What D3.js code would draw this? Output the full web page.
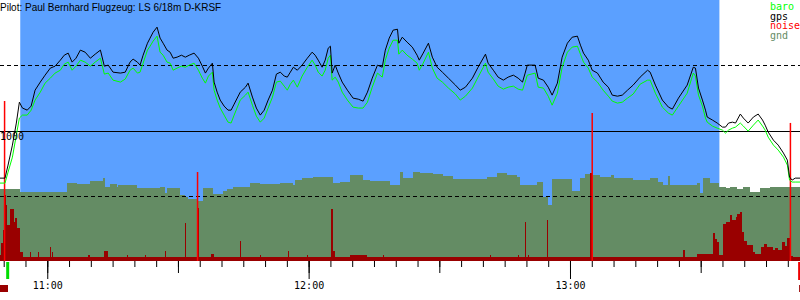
<!DOCTYPE html>
<html>
<head>
<meta charset="utf-8">
<script src="https://cdn.jsdelivr.net/npm/d3@7"></script>
<style>
body{margin:0;background:#fff}
svg text{font-family:'DejaVu Sans Mono',monospace;font-size:10px}
svg .title{font-family:'Liberation Sans',Arial,sans-serif;font-size:10px}
</style>
</head>
<body>
<div id="chart"></div>
<script>
// minutes after 10:00
var times=[49.1,50.3,51.0,52.0,52.9,53.6,54.3,55.4,56.3,57.2,58.4,59.5,60.7,61.8,63.0,63.9,64.8,65.7,66.6,67.6,68.7,69.9,71.0,72.2,73.1,74.0,75.1,76.8,77.9,79.0,79.7,80.7,81.3,82.0,83.0,83.6,84.3,85.2,85.9,86.6,87.5,88.2,88.9,89.8,90.8,91.7,92.6,93.7,94.7,95.6,96.3,97.0,97.9,98.3,99.0,99.7,100.6,101.5,102.2,102.9,104.3,105.5,106.1,107.1,108.0,108.9,109.8,110.7,111.7,112.6,113.5,114.4,115.1,115.8,116.5,117.4,118.5,119.7,120.8,121.5,122.2,123.1,123.8,124.5,125.0,125.4,126.1,126.8,127.7,128.9,130.2,131.4,132.5,133.5,134.6,135.8,136.9,137.6,138.5,139.4,140.4,140.7,141.5,142.6,143.8,144.9,145.4,146.3,147.5,148.4,149.5,150.7,152.1,153.7,154.8,156.0,157.6,158.9,160.6,161.2,162.4,163.5,164.7,165.8,167.0,168.1,169.1,169.7,170.2,172.0,172.7,173.9,175.0,175.9,177.1,178.2,179.4,180.5,181.7,182.4,183.1,184.2,185.1,186.3,187.6,188.8,189.7,190.9,192.0,193.2,194.5,196.1,197.8,198.4,199.6,201.2,202.6,203.5,204.9,206.9,208.3,208.8,209.5,210.4,211.1,211.5,212.7,213.8,215.0,215.7,216.4,217.3,218.0,219.1,219.8,220.9,222.1,223.2,224.2,224.8,225.5,226.7,227.8,229.0,229.9,230.4,231.0,231.7,232.9];

var gps=[635,635,735,888,1057,1217,1172,1156,1187,1309,1371,1424,1478,1493,1539,1577,1593,1524,1554,1616,1600,1554,1585,1616,1493,1501,1447,1440,1447,1524,1547,1524,1501,1577,1669,1708,1753,1792,1708,1669,1616,1600,1554,1562,1577,1562,1577,1593,1554,1493,1440,1478,1516,1371,1294,1233,1187,1156,1156,1202,1294,1332,1363,1256,1172,1118,1156,1233,1309,1432,1447,1417,1409,1447,1485,1462,1501,1554,1600,1577,1539,1485,1539,1631,1646,1440,1501,1440,1371,1309,1248,1240,1225,1294,1401,1501,1485,1616,1708,1769,1776,1669,1715,1677,1639,1577,1539,1593,1669,1562,1485,1447,1401,1348,1309,1332,1401,1485,1585,1516,1462,1409,1386,1409,1424,1401,1371,1440,1501,1501,1401,1386,1332,1271,1363,1562,1669,1715,1723,1654,1593,1539,1462,1440,1371,1332,1271,1263,1271,1309,1348,1409,1462,1447,1348,1233,1179,1164,1248,1348,1485,1478,1325,1233,1156,1103,1080,1057,1026,1026,1057,1064,1057,1126,1095,1057,1103,1126,1080,1041,988,926,888,827,773,643,620,635,635];

var baro=[597,597,681,796,965,1095,1118,1118,1156,1233,1294,1363,1401,1440,1462,1508,1524,1462,1493,1539,1524,1493,1524,1554,1432,1440,1386,1371,1394,1462,1478,1440,1447,1516,1616,1646,1685,1723,1600,1577,1524,1516,1462,1478,1493,1485,1501,1516,1462,1401,1363,1417,1447,1309,1233,1172,1118,1064,1057,1118,1233,1271,1294,1194,1110,1064,1095,1172,1256,1371,1378,1340,1309,1355,1386,1332,1417,1485,1539,1501,1447,1417,1462,1554,1577,1386,1409,1371,1294,1233,1179,1172,1172,1217,1332,1440,1409,1539,1631,1692,1692,1585,1616,1577,1547,1516,1462,1516,1600,1478,1401,1371,1325,1279,1233,1263,1325,1409,1516,1447,1394,1340,1317,1332,1340,1317,1309,1371,1424,1440,1332,1325,1263,1194,1286,1485,1600,1639,1646,1585,1524,1478,1409,1371,1309,1263,1225,1210,1217,1248,1279,1355,1386,1386,1286,1179,1133,1118,1187,1286,1440,1417,1271,1187,1095,1064,1034,1018,1003,980,1003,1018,1026,1057,1034,995,1041,1080,1034,1003,949,888,850,796,735,620,605,605,605];

var gndTimes=[49.1,53.8,64.6,66.9,69.9,72.9,73.3,74.5,76.0,76.3,80.7,85.9,87.1,87.5,90.5,91.7,92.4,94.4,95.8,98.1,100.4,101.3,102.7,106.6,108.9,113.5,116.5,116.9,118.5,121.1,125.7,127.3,129.6,132.5,134.2,138.7,141.0,141.7,144.0,145.6,148.6,150.9,153.2,161.0,163.3,165.6,167.9,168.6,172.5,173.9,175.0,175.9,180.5,182.4,183.5,184.7,187.0,189.3,190.0,194.5,198.4,200.1,201.4,202.4,203.0,205.3,209.2,209.9,210.6,212.2,214.1,215.7,216.8,218.4,219.8,221.4,223.7,226.0,232.9];
var gnd=[551,531,595,590,616,636,569,590,569,582,559,567,521,559,505,492,475,459,559,513,536,551,567,597,590,601,582,620,636,647,597,605,658,620,615,582,684,636,684,674,666,651,628,645,672,658,645,582,607,492,429,628,538,636,666,658,645,658,636,620,636,607,582,651,582,582,600,521,636,595,569,557,569,551,569,531,557,567,567];

var noiseTimes=[49.1,49.4,49.9,50.1,50.6,50.8,51.5,52.4,52.6,53.1,53.8,54.5,56.0,56.3,57.9,58.1,60.7,60.9,61.1,61.4,69.4,69.8,73.1,74.0,78.3,78.5,82.4,82.6,87.0,87.3,91.7,91.9,94.4,94.9,97.6,98.3,104.3,104.5,108.8,109.0,115.3,115.6,119.6,119.8,125.2,125.7,126.1,129.5,133.4,137.1,137.3,161.6,161.8,168.1,168.3,169.7,170.0,170.4,170.6,174.8,175.0,184.6,184.7,185.1,206.0,206.3,209.2,212.9,213.4,213.8,214.3,215.2,215.7,215.9,216.8,217.3,218.0,218.4,219.1,219.6,220.0,220.7,221.9,222.5,223.9,224.6,225.3,226.5,227.1,227.8,228.7,229.4,229.9,230.4,230.8,231.3,232.9];
var noise=[23,69,119,253,214,138,199,149,165,126,34,15,34,15,34,15,54,15,34,15,23,15,38,15,23,15,23,15,38,15,146,15,203,15,27,15,77,15,23,15,38,15,23,15,199,38,15,23,15,23,15,23,15,23,15,149,15,23,15,157,15,149,337,15,42,15,27,107,84,73,23,142,195,149,176,157,169,180,188,111,77,61,34,27,54,65,54,42,50,42,73,57,88,234,19,15,15];

var markTimes=[50.2,94.5,185.1,230.6];
var markLevels=[613,341,567,529];

var flightWindow=[53.8,214.3];
var takeoff=50.8, landing=232.6;
var refAlts=[500,1000,1500];
var tickLabels=['11:00','12:00','13:00'];
var legendNames=['baro','gps','noise','gnd'];
var legendColors=['#00ff00','#000000','#ff0000','#648c64'];
var title='Pilot: Paul Bernhard Flugzeug: LS 6/18m D-KRSF';

var base=new Date(2000,0,1,10,0,0);
function t(m){return new Date(base.getTime()+m*60000);}

var x=d3.scaleTime().domain([t(49.15),t(232.8)]).range([0,800]);
var y=d3.scaleLinear().domain([0,2000]).range([261,0]);
var yn=d3.scaleLinear().domain([0,1000]).range([261,0]);

var svg=d3.select('#chart').append('svg').attr('width',800).attr('height',300);

svg.append('rect')
  .attr('x',x(t(flightWindow[0])))
  .attr('y',0)
  .attr('width',x(t(flightWindow[1]))-x(t(flightWindow[0])))
  .attr('height',261)
  .style('fill','#5ba0ff');

var gndArea=d3.area()
  .x(function(d,i){return x(t(gndTimes[i]));})
  .y0(261)
  .y1(function(d){return y(d);})
  .curve(d3.curveStepAfter);

svg.append('path').datum(gnd)
  .attr('d',gndArea)
  .attr('shape-rendering','crispEdges')
  .style('fill','#648c64');

var noiseArea=d3.area()
  .x(function(d,i){return x(t(noiseTimes[i]));})
  .y0(yn(0))
  .y1(function(d){return yn(d);})
  .curve(d3.curveStepAfter);

svg.append('path').datum(noise)
  .attr('d',noiseArea)
  .attr('shape-rendering','crispEdges')
  .style('fill','#990000');

svg.selectAll('.ref').data(refAlts).enter().append('line')
  .attr('class','ref')
  .attr('x1',0).attr('x2',800)
  .attr('y1',function(d){return Math.round(y(d))+0.5;})
  .attr('y2',function(d){return Math.round(y(d))+0.5;})
  .style('stroke','#000')
  .style('stroke-width',1)
  .style('stroke-dasharray',function(d){return d==1000?null:'4,3';});

svg.selectAll('.mark').data(markTimes).enter().append('line')
  .attr('class','mark')
  .attr('x1',function(d){return x(t(d));})
  .attr('x2',function(d){return x(t(d));})
  .attr('y1',function(d,i){return yn(markLevels[i]);})
  .attr('y2',yn(0))
  .style('stroke','#ff0000')
  .style('stroke-width',1.5);

var altLine=d3.line()
  .x(function(d,i){return x(t(times[i]));})
  .y(function(d){return y(d);});

svg.append('path').datum(baro)
  .attr('d',altLine)
  .style('fill','none')
  .style('stroke','#00ff00')
  .style('stroke-width',1);

svg.append('path').datum(gps)
  .attr('d',altLine)
  .style('fill','none')
  .style('stroke','#000')
  .style('stroke-width',1);

svg.append('text')
  .attr('x',0)
  .attr('y',140)
  .text('1000')
  .style('fill','#000');

svg.append('text')
  .attr('class','title')
  .attr('x',0)
  .attr('y',11)
  .text(title)
  .style('fill','#000');

svg.selectAll('.legendtext').data(legendNames).enter().append('text')
  .attr('class','legendtext')
  .attr('x',770)
  .attr('y',function(d,i){return 10+i*9.5;})
  .text(function(d){return d;})
  .style('fill',function(d,i){return legendColors[i];});

// time axis: 5 min, 30 min and hour ticks
var hourTicks=tickLabels.map(function(s){var p=s.split(':');return t(+p[0]*60+(+p[1])-600);});

svg.append('g').attr('transform','translate(0,261)')
  .call(d3.axisBottom(x).ticks(d3.timeMinute.every(5)).tickSize(6).tickFormat(''));
svg.append('g').attr('transform','translate(0,261)')
  .call(d3.axisBottom(x).ticks(d3.timeMinute.every(30)).tickSize(12).tickFormat(''));
svg.append('g').attr('transform','translate(0,261)')
  .call(d3.axisBottom(x).tickValues(hourTicks).tickSize(18).tickPadding(3)
    .tickFormat(function(d,i){return tickLabels[i];}));

svg.selectAll('.domain').remove();
svg.selectAll('.tick text').style('font-family',"'DejaVu Sans Mono',monospace").style('font-size','10px').style('fill','#000');

svg.append('rect')
  .attr('x',x(t(takeoff))-1)
  .attr('y',262)
  .attr('width',3)
  .attr('height',17)
  .style('fill','#00dd00');

svg.append('rect')
  .attr('x',x(t(landing))-1)
  .attr('y',262)
  .attr('width',3)
  .attr('height',18)
  .style('fill','#ee0000');

svg.append('rect')
  .attr('x',x(t(49.15)))
  .attr('y',285)
  .attr('width',8)
  .attr('height',7)
  .style('fill','#990000');

svg.append('rect')
  .attr('x',x(t(landing)))
  .attr('y',285)
  .attr('width',8)
  .attr('height',7)
  .style('fill','#990000');
</script>
</body>
</html>
